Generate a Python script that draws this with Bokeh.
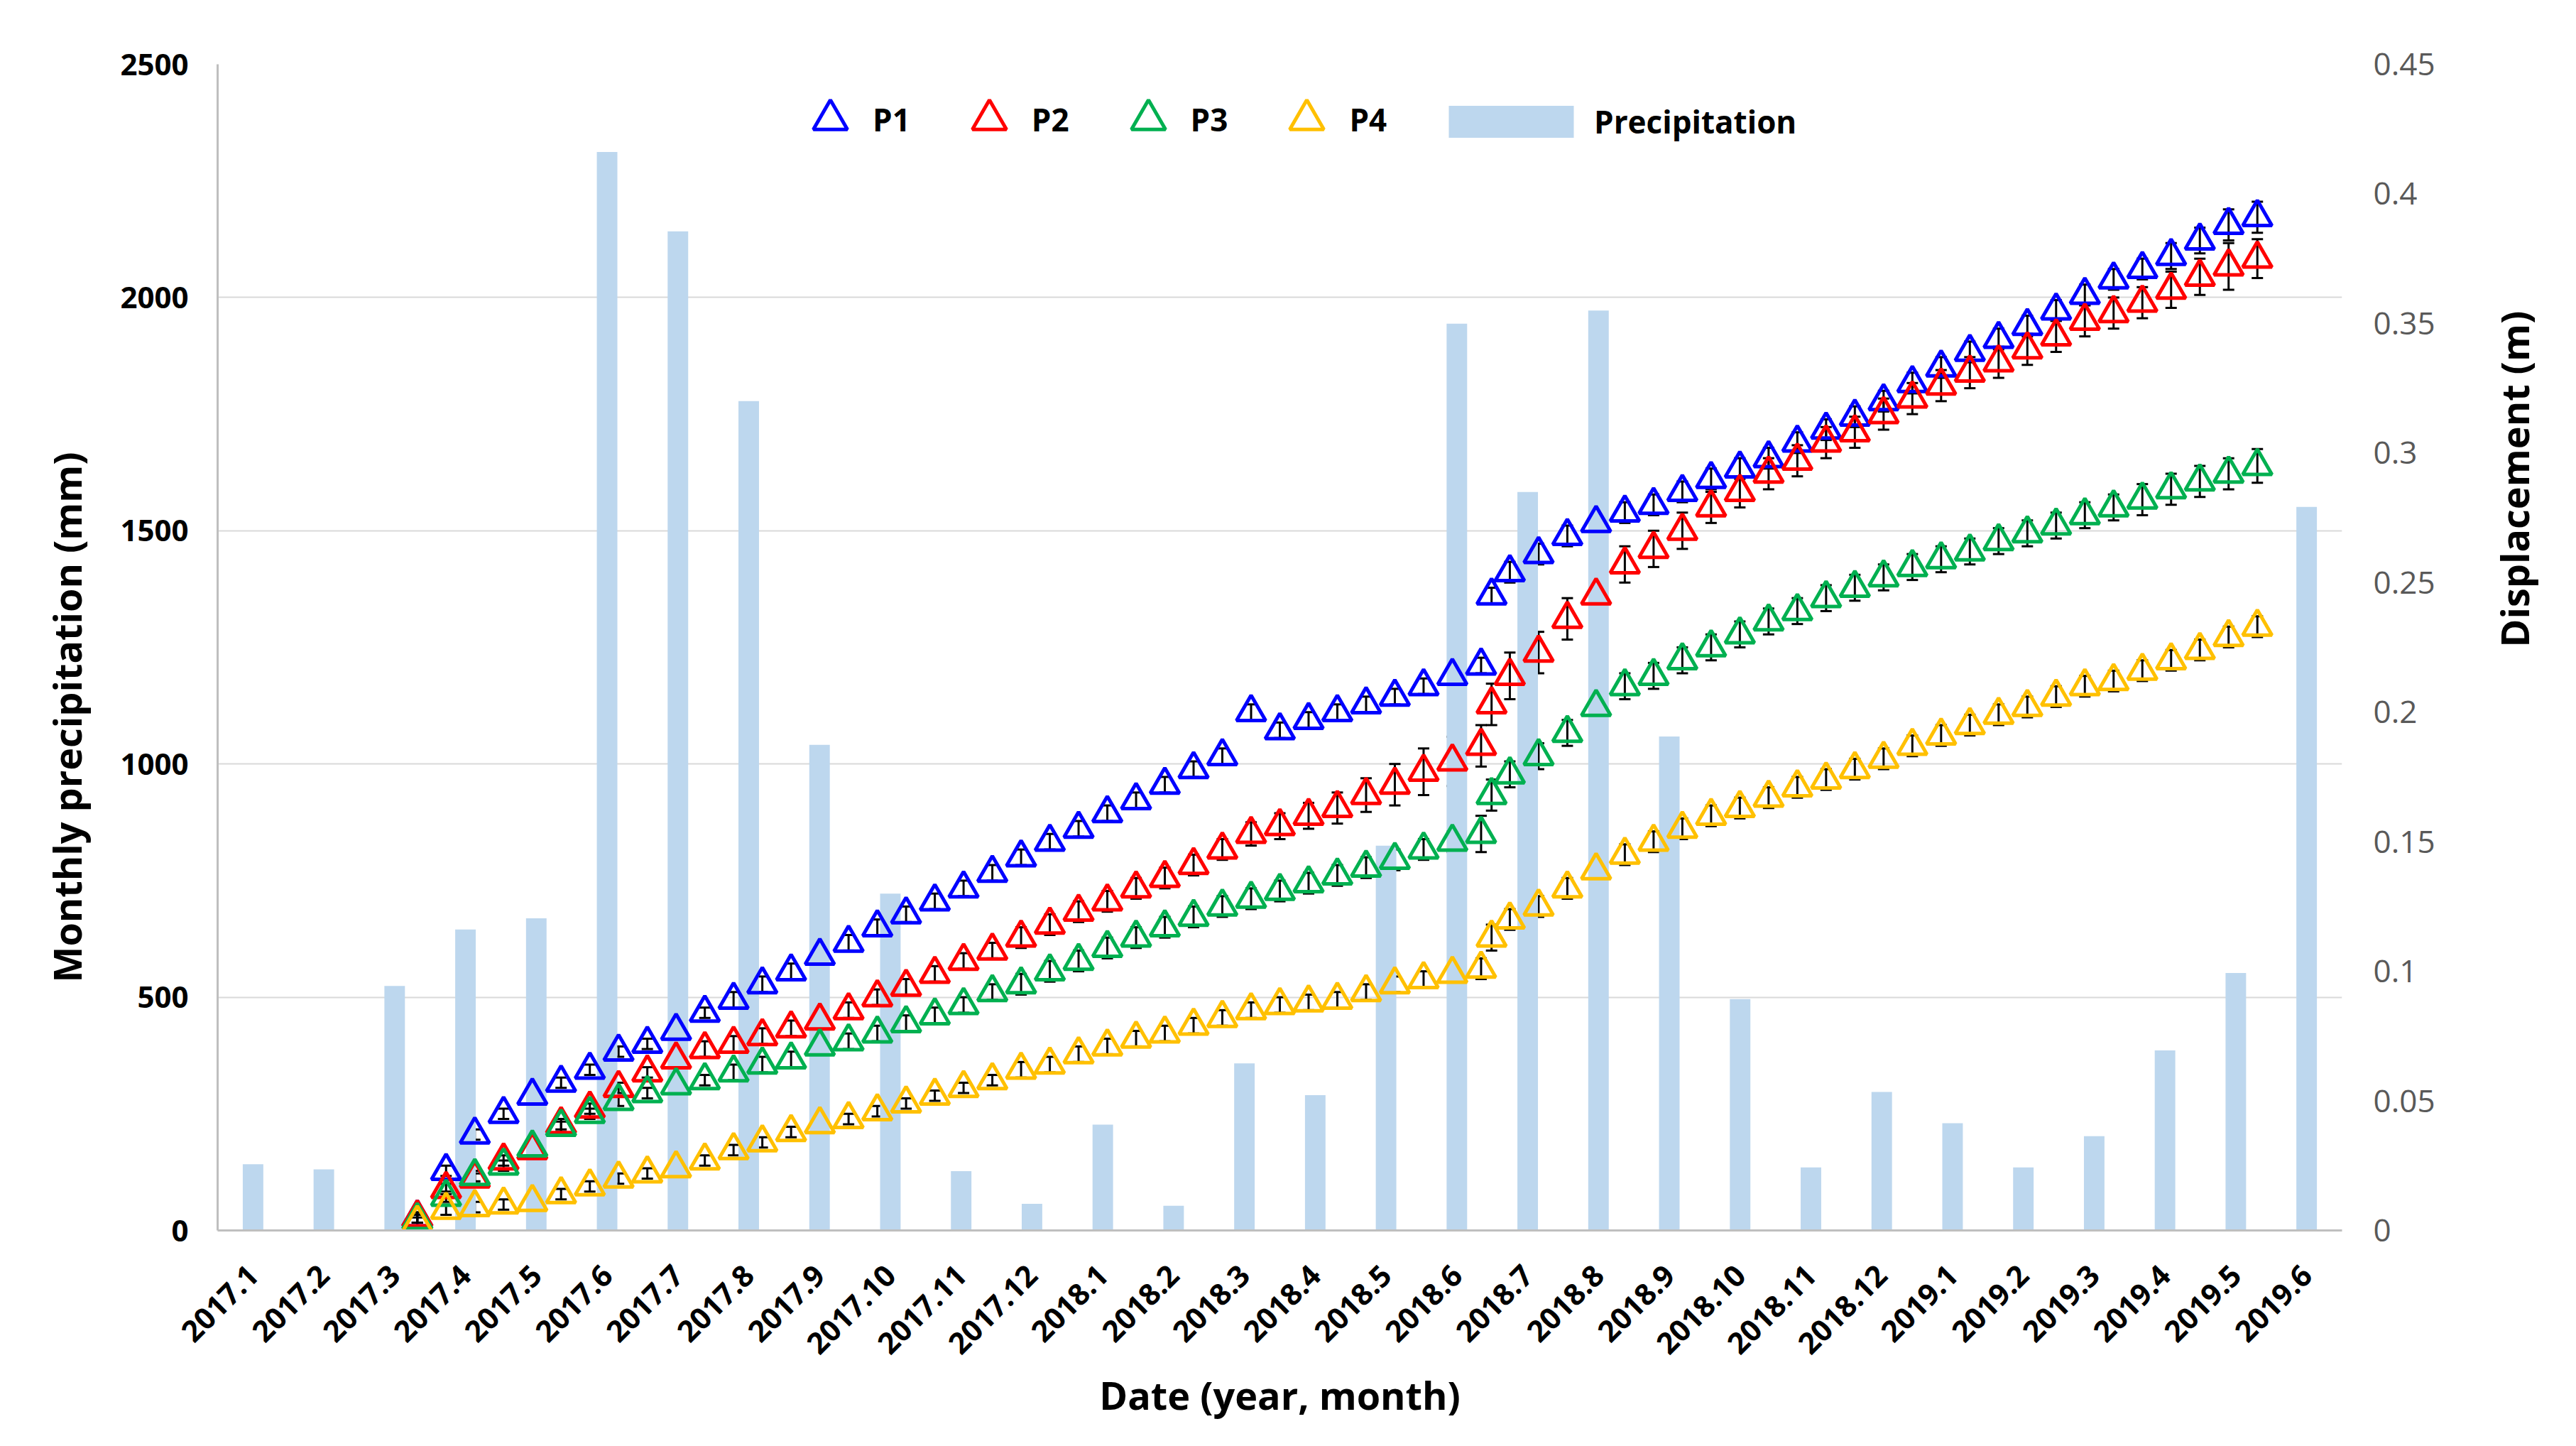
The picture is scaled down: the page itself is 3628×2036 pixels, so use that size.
import numpy as np
from bokeh.plotting import figure
from bokeh.models import (Range1d, LinearAxis, FixedTicker, ColumnDataSource,
                          Whisker, TeeHead, Legend, LegendItem, CustomJSTickFormatter, Title)
from bokeh.embed import file_html
from bokeh.resources import INLINE

# ---------------- data ----------------
months = ["2017.1", "2017.2", "2017.3", "2017.4", "2017.5", "2017.6", "2017.7", "2017.8",
          "2017.9", "2017.10", "2017.11", "2017.12", "2018.1", "2018.2", "2018.3", "2018.4",
          "2018.5", "2018.6", "2018.7", "2018.8", "2018.9", "2018.10", "2018.11", "2018.12",
          "2019.1", "2019.2", "2019.3", "2019.4", "2019.5", "2019.6"]

precip_mm = [142, 131, 524, 645, 669, 2312, 2142, 1778, 1041, 722, 127, 57, 227, 53, 358,
             290, 825, 1944, 1583, 1972, 1059, 496, 135, 297, 230, 135, 202, 386, 552, 1551]

# observation times, in months counted from the centre of the 2017.1 category
obs_month = [2.320, 2.726, 3.132, 3.538, 3.944, 4.350, 4.756, 5.162, 5.568, 5.974,
             6.380, 6.786, 7.192, 7.598, 8.004, 8.410, 8.816, 9.222, 9.628, 10.034,
             10.440, 10.846, 11.252, 11.658, 12.064, 12.470, 12.876, 13.282, 13.688, 14.094,
             14.500, 14.906, 15.312, 15.718, 16.124, 16.530, 16.936, 17.342, 17.490,
             17.748, 18.154, 18.560, 18.966, 19.372, 19.778, 20.184, 20.590, 20.996, 21.402,
             21.808, 22.214, 22.620, 23.026, 23.432, 23.838, 24.244, 24.650, 25.056, 25.462,
             25.868, 26.274, 26.680, 27.086, 27.492, 27.898, 28.304]

P1 = [0.005, 0.023, 0.037, 0.045, 0.052, 0.057, 0.062, 0.069, 0.072, 0.077,
      0.084, 0.089, 0.095, 0.100, 0.106, 0.111, 0.117, 0.122, 0.127, 0.132,
      0.138, 0.144, 0.150, 0.155, 0.161, 0.166, 0.172, 0.178, 0.183, 0.200,
      0.193, 0.197, 0.200, 0.203, 0.206, 0.210, 0.214, 0.218, 0.245,
      0.254, 0.261, 0.268, 0.273, 0.277, 0.280, 0.285, 0.290, 0.294, 0.298,
      0.304, 0.309, 0.314, 0.320, 0.327, 0.333, 0.339, 0.344, 0.349, 0.355,
      0.361, 0.367, 0.371, 0.376, 0.382, 0.388, 0.391]
P2 = [0.005, 0.016, 0.020, 0.027, 0.031, 0.041, 0.047, 0.055, 0.061, 0.066,
      0.070, 0.072, 0.075, 0.078, 0.081, 0.085, 0.090, 0.094, 0.099, 0.104,
      0.108, 0.113, 0.118, 0.123, 0.127, 0.132, 0.136, 0.141, 0.147, 0.153,
      0.156, 0.160, 0.163, 0.168, 0.172, 0.177, 0.181, 0.187, 0.203,
      0.214, 0.223, 0.236, 0.245, 0.257, 0.263, 0.270, 0.279, 0.285, 0.292,
      0.297, 0.304, 0.308, 0.315, 0.321, 0.326, 0.331, 0.335, 0.340, 0.345,
      0.351, 0.354, 0.358, 0.363, 0.368, 0.372, 0.375]
P3 = [0.004, 0.013, 0.021, 0.025, 0.032, 0.040, 0.045, 0.050, 0.053, 0.056,
      0.058, 0.061, 0.064, 0.066, 0.071, 0.073, 0.076, 0.080, 0.083, 0.087,
      0.092, 0.095, 0.100, 0.104, 0.109, 0.113, 0.117, 0.121, 0.125, 0.128,
      0.131, 0.134, 0.137, 0.140, 0.143, 0.147, 0.150, 0.153, 0.168,
      0.176, 0.183, 0.192, 0.202, 0.210, 0.214, 0.220, 0.225, 0.230, 0.235,
      0.239, 0.244, 0.248, 0.252, 0.256, 0.259, 0.262, 0.266, 0.269, 0.272,
      0.276, 0.279, 0.282, 0.286, 0.289, 0.292, 0.295]
P4 = [0.003, 0.008, 0.009, 0.010, 0.011, 0.014, 0.017, 0.020, 0.022, 0.024,
      0.027, 0.031, 0.034, 0.038, 0.041, 0.043, 0.046, 0.049, 0.052, 0.055,
      0.058, 0.062, 0.064, 0.068, 0.071, 0.074, 0.076, 0.079, 0.082, 0.085,
      0.087, 0.088, 0.089, 0.092, 0.095, 0.097, 0.099, 0.101, 0.113,
      0.120, 0.125, 0.132, 0.139, 0.145, 0.150, 0.155, 0.160, 0.163, 0.167,
      0.171, 0.174, 0.178, 0.182, 0.187, 0.191, 0.195, 0.199, 0.202, 0.206,
      0.210, 0.212, 0.216, 0.220, 0.224, 0.229, 0.233]

# error bar half-lengths (m)
E1 = [0.002, 0.002, 0.002, 0.002, 0.002, 0.002, 0.002, 0.002, 0.002, 0.002,
      0.002, 0.003, 0.003, 0.003, 0.003, 0.003, 0.003, 0.003, 0.003, 0.003,
      0.003, 0.003, 0.003, 0.003, 0.003, 0.003, 0.003, 0.003, 0.003, 0.003,
      0.003, 0.003, 0.003, 0.003, 0.003, 0.003, 0.003, 0.003, 0.003,
      0.004, 0.004, 0.004, 0.004, 0.004, 0.004, 0.004, 0.004, 0.004, 0.004,
      0.004, 0.004, 0.004, 0.004, 0.004, 0.004, 0.004, 0.004, 0.004, 0.004,
      0.004, 0.004, 0.004, 0.005, 0.005, 0.006, 0.006]
E2 = [0.002, 0.002, 0.002, 0.002, 0.002, 0.002, 0.002, 0.002, 0.002, 0.003,
      0.003, 0.003, 0.003, 0.003, 0.003, 0.003, 0.003, 0.003, 0.003, 0.003,
      0.003, 0.004, 0.004, 0.004, 0.004, 0.004, 0.004, 0.004, 0.004, 0.0045,
      0.005, 0.005, 0.006, 0.0065, 0.008, 0.009, 0.0095, 0.008, 0.008,
      0.009, 0.008, 0.008, 0.008, 0.007, 0.007, 0.007, 0.006, 0.006, 0.006,
      0.006, 0.006, 0.006, 0.006, 0.006, 0.006, 0.006, 0.006, 0.006, 0.006,
      0.006, 0.006, 0.006, 0.007, 0.007, 0.009, 0.0075]
E3 = [0.002, 0.002, 0.002, 0.002, 0.002, 0.002, 0.002, 0.002, 0.002, 0.002,
      0.002, 0.003, 0.003, 0.003, 0.003, 0.003, 0.003, 0.003, 0.003, 0.003,
      0.003, 0.004, 0.004, 0.004, 0.004, 0.004, 0.004, 0.004, 0.004, 0.004,
      0.004, 0.004, 0.004, 0.004, 0.004, 0.004, 0.004, 0.007, 0.006,
      0.005, 0.005, 0.005, 0.005, 0.005, 0.005, 0.005, 0.005, 0.005, 0.005,
      0.005, 0.005, 0.005, 0.005, 0.005, 0.005, 0.005, 0.005, 0.005, 0.005,
      0.005, 0.005, 0.006, 0.006, 0.006, 0.006, 0.0065]
E4 = [0.002, 0.002, 0.002, 0.002, 0.002, 0.002, 0.002, 0.002, 0.002, 0.002,
      0.002, 0.002, 0.002, 0.002, 0.002, 0.002, 0.002, 0.002, 0.002, 0.002,
      0.002, 0.003, 0.003, 0.003, 0.003, 0.003, 0.003, 0.003, 0.003, 0.003,
      0.003, 0.003, 0.003, 0.003, 0.003, 0.003, 0.003, 0.004, 0.005,
      0.004, 0.004, 0.004, 0.004, 0.004, 0.004, 0.004, 0.004, 0.004, 0.004,
      0.004, 0.004, 0.004, 0.004, 0.004, 0.004, 0.004, 0.004, 0.004, 0.004,
      0.004, 0.004, 0.004, 0.004, 0.004, 0.004, 0.004]

series = [("P1", P1, E1, "#0000FF"), ("P2", P2, E2, "#FF0000"),
          ("P3", P3, E3, "#00B050"), ("P4", P4, E4, "#FFC000")]

FONT = "Open Sans"

# ---------------- figure ----------------
p = figure(width=3617, height=2020, output_backend="svg", toolbar_location=None,
           x_range=Range1d(-0.5, 29.5), y_range=Range1d(0, 2500),
           min_border_left=306, min_border_right=314, min_border_top=90,
           min_border_bottom=288)
p.outline_line_color = None
p.background_fill_color = "white"
p.border_fill_color = "white"

p.extra_y_ranges = {"disp": Range1d(0, 0.45)}

# grid
p.xgrid.visible = False
p.ygrid.ticker = FixedTicker(ticks=[500, 1000, 1500, 2000, 2500])
p.ygrid.grid_line_color = "#D9D9D9"
p.ygrid.grid_line_width = 2

# bars
bar_src = ColumnDataSource(dict(x=list(range(len(months))), top=precip_mm))
bars = p.vbar(x="x", top="top", width=0.29, source=bar_src,
              fill_color="#BDD7EE", line_color=None)

# displacement series
sc_renderers = []
for name, vals, errs, col in series:
    v = np.array(vals)
    e = np.array(errs)
    src = ColumnDataSource(dict(x=obs_month, y=vals, upper=(v + e).tolist(),
                                lower=(v - e).tolist()))
    r = p.scatter(x="x", y="y", source=src, marker="triangle", size=41,
                  line_color=col, line_width=5, fill_color=None,
                  y_range_name="disp")
    sc_renderers.append((name, r))
    wk = Whisker(source=src, base="x", upper="upper", lower="lower",
                 dimension="height", y_range_name="disp",
                 line_color="black", line_width=3,
                 upper_head=TeeHead(size=16, line_color="black", line_width=3),
                 lower_head=TeeHead(size=16, line_color="black", line_width=3))
    p.add_layout(wk)

# ---------------- axes ----------------
xa = p.xaxis[0]
xa.ticker = FixedTicker(ticks=list(range(len(months))))
xa.major_label_overrides = {i: m for i, m in enumerate(months)}
xa.major_label_orientation = np.pi / 4
xa.major_label_text_font = FONT
xa.major_label_text_font_size = "42px"
xa.major_label_text_font_style = "bold"
xa.major_label_text_color = "black"
xa.major_label_standoff = 50
xa.major_tick_line_color = None
xa.minor_tick_line_color = None
xa.axis_line_color = "#BFBFBF"
xa.axis_line_width = 3
xa.axis_label = "Date (year, month)"
xa.axis_label_text_font = FONT
xa.axis_label_text_font_size = "54px"
xa.axis_label_text_font_style = "bold"
xa.axis_label_text_color = "black"
xa.axis_label_standoff = 4

ya = p.yaxis[0]
ya.ticker = FixedTicker(ticks=[0, 500, 1000, 1500, 2000, 2500])
ya.major_label_text_font = FONT
ya.major_label_text_font_size = "42px"
ya.major_label_text_font_style = "bold"
ya.major_label_text_color = "black"
ya.major_label_standoff = 35
ya.major_tick_line_color = None
ya.minor_tick_line_color = None
ya.axis_line_color = "#BFBFBF"
ya.axis_line_width = 3

ra = LinearAxis(y_range_name="disp",
                ticker=FixedTicker(ticks=[0, 0.05, 0.1, 0.15, 0.2, 0.25, 0.3, 0.35, 0.4, 0.45]),
                formatter=CustomJSTickFormatter(code="return String(Math.round(tick*100)/100);"))
ra.major_label_text_font = FONT
ra.major_label_text_font_size = "44px"
ra.major_label_text_color = "#595959"
ra.major_label_standoff = 38
ra.major_tick_line_color = None
ra.minor_tick_line_color = None
ra.axis_line_color = None
ra.axis_label = "Displacement  (m)"
ra.axis_label_text_font = FONT
ra.axis_label_text_font_size = "54px"
ra.axis_label_text_font_style = "bold"
ra.axis_label_text_color = "black"
ra.axis_label_standoff = 108
try:
    ra.axis_label_orientation = np.pi / 2   # read bottom-to-top like the reference
except Exception:
    pass
p.add_layout(ra, "right")

# left title, placed off-centre along the axis like the reference
lt = Title(text="Monthly precipitation (mm)", align="left", offset=349,
           text_font=FONT, text_font_size="54px", text_font_style="bold",
           text_color="black")
try:
    lt.standoff = 72
except Exception:
    pass
p.add_layout(lt, "left")

# ---------------- legends ----------------
leg1 = Legend(items=[LegendItem(label=n, renderers=[r]) for n, r in sc_renderers],
              orientation="horizontal", location=(803, 1504),
              glyph_width=120, glyph_height=120, label_standoff=0, spacing=51,
              padding=0, margin=0, border_line_color=None, background_fill_alpha=0,
              label_text_font=FONT, label_text_font_size="44px",
              label_text_font_style="bold", label_text_color="black")
leg2 = Legend(items=[LegendItem(label="Precipitation", renderers=[bars])],
              orientation="horizontal", location=(1712, 1531),
              glyph_width=220, glyph_height=56, label_standoff=7,
              padding=0, margin=0, border_line_color=None, background_fill_alpha=0,
              label_text_font=FONT, label_text_font_size="44px",
              label_text_font_style="bold", label_text_color="black")
p.add_layout(leg1)
p.add_layout(leg2)

open("out.html", "w").write(file_html(p, INLINE))
